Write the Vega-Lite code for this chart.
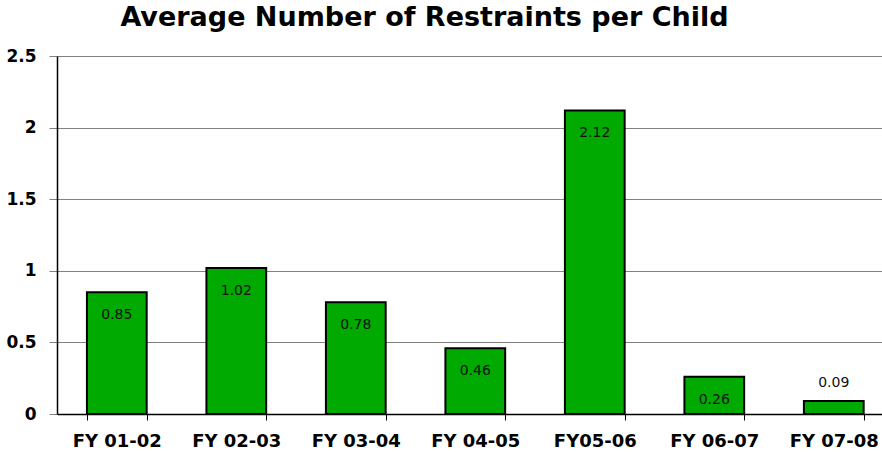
{
  "$schema": "https://vega.github.io/schema/vega-lite/v6.json",
  "autosize": {"type": "none"},
  "padding": {"left": 57, "top": 56, "right": 0, "bottom": 38},
  "width": 825,
  "height": 358,
  "background": "white",
  "title": {
    "text": "Average Number of Restraints per Child",
    "font": "DejaVu Sans",
    "fontSize": 27,
    "fontWeight": "bold",
    "color": "black",
    "anchor": "middle",
    "dx": -45,
    "offset": 15
  },
  "config": {"view": {"stroke": null}},
  "data": {
    "values": [
      {"year": "FY 01-02", "value": 0.85},
      {"year": "FY 02-03", "value": 1.02},
      {"year": "FY 03-04", "value": 0.78},
      {"year": "FY 04-05", "value": 0.46},
      {"year": "FY05-06", "value": 2.12},
      {"year": "FY 06-07", "value": 0.26},
      {"year": "FY 07-08", "value": 0.09}
    ]
  },
  "encoding": {
    "x": {
      "field": "year",
      "type": "nominal",
      "sort": null,
      "title": null,
      "scale": {"paddingInner": 0.5, "paddingOuter": 0.202, "align": 0.62},
      "axis": {
        "labelAngle": 0,
        "labelFont": "DejaVu Sans",
        "labelFontSize": 18,
        "labelFontWeight": "bold",
        "labelColor": "black",
        "labelBaseline": "top",
        "labelPadding": 12,
        "labelOverlap": false,
        "tickBand": "extent",
        "tickSize": 6,
        "tickColor": "black",
        "domainColor": "black",
        "domainWidth": 1.5,
        "grid": false
      }
    },
    "y": {
      "field": "value",
      "type": "quantitative",
      "title": null,
      "scale": {"domain": [0, 2.5], "nice": false},
      "axis": {
        "values": [0, 0.5, 1, 1.5, 2, 2.5],
        "format": ".1~f",
        "labelFont": "DejaVu Sans",
        "labelFontSize": 17,
        "labelFontWeight": "bold",
        "labelColor": "black",
        "labelPadding": 13,
        "tickSize": 8,
        "tickColor": "#808080",
        "domainColor": "black",
        "domainWidth": 1.5,
        "grid": true,
        "gridColor": "#808080",
        "gridWidth": 1
      }
    }
  },
  "layer": [
    {
      "mark": {"type": "bar", "color": "#00AA00", "stroke": "black", "strokeWidth": 2}
    },
    {
      "transform": [{"filter": "datum.value > 0.2"}],
      "mark": {"type": "text", "font": "DejaVu Sans", "fontSize": 14, "color": "#111111", "baseline": "middle", "dy": 23},
      "encoding": {"text": {"field": "value", "type": "quantitative", "format": ".2f"}}
    },
    {
      "transform": [{"filter": "datum.value <= 0.2"}],
      "mark": {"type": "text", "font": "DejaVu Sans", "fontSize": 14, "color": "#111111", "baseline": "middle", "dy": -18},
      "encoding": {"text": {"field": "value", "type": "quantitative", "format": ".2f"}}
    }
  ]
}
